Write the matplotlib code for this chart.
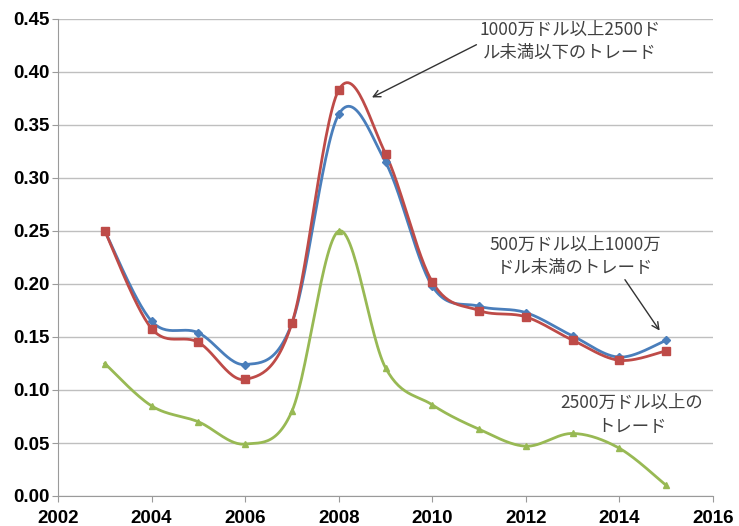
import numpy as np
import matplotlib.pyplot as plt

plt.rcParams['font.family'] = ['Liberation Sans', 'DejaVu Sans']

years = [2003, 2004, 2005, 2006, 2007, 2008, 2009, 2010, 2011, 2012, 2013, 2014, 2015]
mid = [0.250, 0.165, 0.154, 0.124, 0.163, 0.360, 0.315, 0.198, 0.179, 0.173, 0.151, 0.131, 0.147]
upper = [0.250, 0.158, 0.145, 0.110, 0.163, 0.383, 0.323, 0.202, 0.175, 0.169, 0.147, 0.128, 0.137]
large = [0.125, 0.085, 0.070, 0.049, 0.080, 0.250, 0.121, 0.086, 0.063, 0.047, 0.059, 0.045, 0.010]


def smooth(x, y, n=30):
    # Catmull-Rom through the points, like a spreadsheet "smoothed line"
    p = np.column_stack([x, y]).astype(float)
    p = np.vstack([p[0], p, p[-1]])
    out = []
    t = np.linspace(0, 1, n)[:, None]
    for i in range(1, len(p) - 2):
        p0, p1, p2, p3 = p[i - 1], p[i], p[i + 1], p[i + 2]
        c1 = p1 + (p2 - p0) / 6
        c2 = p2 - (p3 - p1) / 6
        seg = ((1 - t) ** 3) * p1 + 3 * ((1 - t) ** 2) * t * c1 + 3 * (1 - t) * t ** 2 * c2 + t ** 3 * p2
        out.append(seg if i == 1 else seg[1:])
    out = np.vstack(out)
    return out[:, 0], out[:, 1]


fig = plt.figure(figsize=(7.39, 5.26), dpi=100)
ax = fig.add_axes([58 / 739, 1 - 496 / 526, (713 - 58) / 739, (496 - 19) / 526])

series = [
    (mid, '#4A7EBB', 'D', 4),
    (upper, '#BE4B48', 's', 6),
    (large, '#98B954', '^', 5),
]
for vals, col, mk, ms in series:
    sx, sy = smooth(years, vals)
    ax.plot(sx, sy, color=col, lw=2, zorder=3)
    ax.plot(years, vals, ls='none', marker=mk, ms=ms, color=col, zorder=4)

ax.set_xlim(2002, 2016)
ax.set_ylim(0, 0.45)
ax.set_xticks(range(2002, 2017, 2))
ax.set_yticks(np.arange(0, 0.451, 0.05))
ax.yaxis.set_major_formatter(plt.FuncFormatter(lambda v, p: f'{v:.2f}'))
ax.grid(axis='y', color='#BFBFBF', lw=1)
ax.set_axisbelow(True)
for s in ['top', 'right']:
    ax.spines[s].set_visible(False)
for s in ['left', 'bottom']:
    ax.spines[s].set_color('#9A9A9A')
ax.tick_params(colors='#9A9A9A', length=4, labelcolor='black', labelsize=13.5)
ax.tick_params(axis='y', pad=2)
ax.tick_params(axis='x', pad=6)
for lab in ax.get_xticklabels() + ax.get_yticklabels():
    lab.set_fontweight('bold')

jp = ['Noto Sans CJK JP', 'DejaVu Sans']
ax.annotate('1000万ドル以上2500ド\nル未満以下のトレード', xy=(2008.71, 0.376), xytext=(2012.94, 0.429),
            ha='center', va='center', fontsize=12.5, family=jp, color='#404040', linespacing=1.35,
            arrowprops=dict(arrowstyle='->', color='#333333', lw=1, shrinkA=0, shrinkB=0,
                            relpos=(0.0, 0.45)))
ax.annotate('500万ドル以上1000万\nドル未満のトレード', xy=(2014.86, 0.156), xytext=(2013.05, 0.226),
            ha='center', va='center', fontsize=12.5, family=jp, color='#404040', linespacing=1.35,
            arrowprops=dict(arrowstyle='->', color='#333333', lw=1, shrinkA=0, shrinkB=0,
                            relpos=(0.78, 0.0)))
ax.text(2014.26, 0.077, '2500万ドル以上の\nトレード', ha='center', va='center', fontsize=12.5,
        family=jp, color='#404040', linespacing=1.35)

fig.savefig('out.png', dpi=100)
